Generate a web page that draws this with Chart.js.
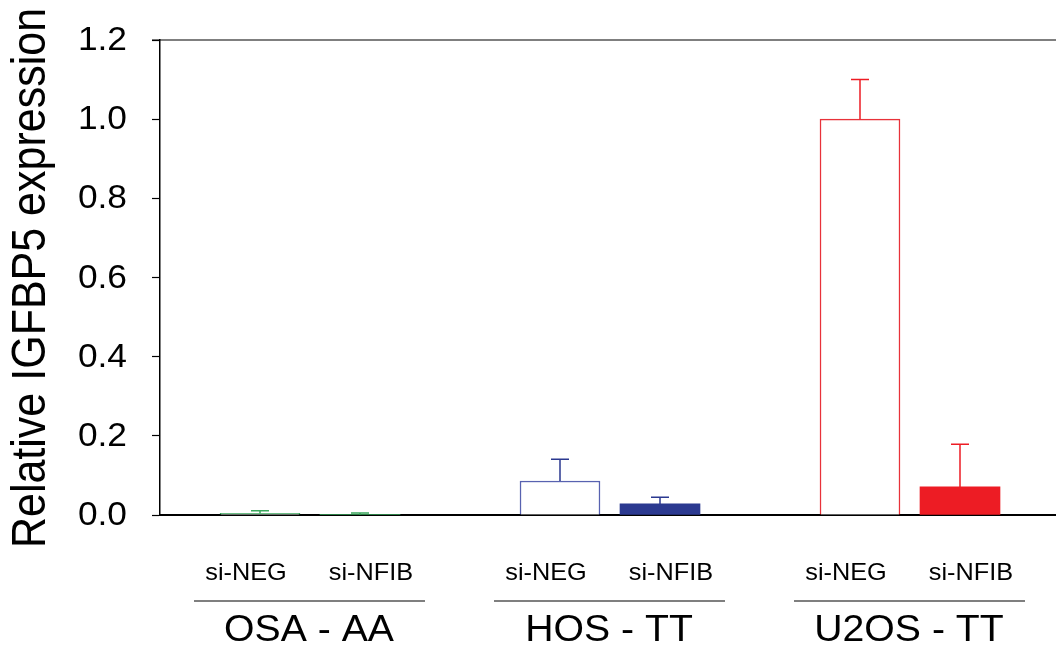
<!DOCTYPE html>
<html><head><meta charset="utf-8">
<script src="https://cdn.jsdelivr.net/npm/chart.js@4/dist/chart.umd.min.js"></script>
<style>html,body{margin:0;padding:0;background:#fff}#wrap{width:1056px;height:658px}</style>
</head><body><div id="wrap"><canvas id="c" width="1056" height="658"></canvas></div>
<script>
const groups = ['OSA - AA', 'HOS - TT', 'U2OS - TT'];
const treatments = ['si-NEG', 'si-NFIB'];
const values = [0.004, 0.001, 0.086, 0.028, 1.0, 0.071];
const errors = [0.007, 0.004, 0.055, 0.017, 0.10, 0.108];
const yTicks = [0, 0.2, 0.4, 0.6, 0.8, 1.0, 1.2];
const groupColors = ['#3aa75c', '#2b3990', '#ed1c24'];
const outlineColors = ['#3aa75c', '#5862b0', '#e8323a'];

const FONT = '"Liberation Sans", Arial, sans-serif';
const points = [], bg = [], bc = [], bw = [], errCol = [];
groups.forEach((g, gi) => treatments.forEach((t, ti) => {
  const i = gi * treatments.length + ti;
  points.push({x: gi * 3 + ti + 1, y: values[i]});
  bg.push(ti === 0 ? '#ffffff' : groupColors[gi]);
  bc.push(ti === 0 ? outlineColors[gi] : groupColors[gi]);
  bw.push(ti === 0 ? 1.5 : 0);
  errCol.push(groupColors[gi]);
}));

function stretchText(ctx, text, x, y, sx, sy, align) {
  ctx.save();
  ctx.translate(x, y); ctx.scale(sx, sy);
  ctx.textAlign = align; ctx.fillText(text, 0, 0);
  ctx.restore();
}

const decor = {
  id: 'decor',
  afterDatasetsDraw(chart) {
    const {ctx, scales: {x, y}, chartArea: ca} = chart;
    ctx.save();
    // error bars
    points.forEach((p, i) => {
      const px = x.getPixelForValue(p.x);
      const y0 = y.getPixelForValue(values[i]);
      const y1 = y.getPixelForValue(values[i] + errors[i]);
      ctx.strokeStyle = errCol[i];
      ctx.lineWidth = 1.5;
      ctx.beginPath();
      ctx.moveTo(px, y0); ctx.lineTo(px, y1);
      ctx.moveTo(px - 9, y1); ctx.lineTo(px + 9, y1);
      ctx.stroke();
    });
    // top frame line
    ctx.strokeStyle = '#000'; ctx.lineWidth = 1.2;
    ctx.beginPath(); ctx.moveTo(ca.left - 8, ca.top); ctx.lineTo(ca.right, ca.top); ctx.stroke();
    ctx.fillStyle = '#000';
    ctx.textBaseline = 'middle';
    // y tick labels
    ctx.font = '33px ' + FONT;
    yTicks.forEach(v => stretchText(ctx, v.toFixed(1), 127, y.getPixelForValue(v) + 1, 1.07, 1, 'right'));
    // y title
    ctx.save();
    ctx.font = '43px ' + FONT;
    ctx.translate(32, 278); ctx.rotate(-Math.PI / 2); ctx.scale(1, 1.1);
    ctx.textAlign = 'center';
    ctx.fillText('Relative IGFBP5 expression', 0, 0);
    ctx.restore();
    // group labels
    groups.forEach((g, gi) => {
      const a = x.getPixelForValue(gi * 3 + 1), b = x.getPixelForValue(gi * 3 + 2);
      const c = (a + b) / 2;
      ctx.font = '22px ' + FONT;
      stretchText(ctx, treatments[0], c - 64, 573, 1.15, 1.08, 'center');
      stretchText(ctx, treatments[1], c + 61, 573, 1.15, 1.08, 'center');
      ctx.strokeStyle = '#555'; ctx.lineWidth = 1.5;
      ctx.beginPath(); ctx.moveTo(c - 116, 601); ctx.lineTo(c + 115, 601); ctx.stroke();
      ctx.font = '35px ' + FONT;
      stretchText(ctx, g, c - 1, 631, 1.12, 1.05, 'center');
    });
    ctx.restore();
  }
};

new Chart(document.getElementById('c'), {
  type: 'bar',
  data: { datasets: [{
    data: points, backgroundColor: bg, borderColor: bc, borderWidth: bw,
    barThickness: 80, borderSkipped: 'start'
  }]},
  options: {
    responsive: false, animation: false, devicePixelRatio: 1,
    layout: { padding: {left: 0, right: 0, top: 40, bottom: 0} },
    plugins: { legend: {display: false}, tooltip: {enabled: false} },
    scales: {
      x: {
        type: 'linear', min: 0, max: 8.96, offset: false,
        ticks: {display: false},
        grid: {display: false},
        border: {display: true, color: '#000', width: 2},
        afterFit(s) { s.height = 143; }
      },
      y: {
        min: 0, max: 1.2,
        afterBuildTicks(s) { s.ticks = yTicks.map(v => ({value: v})); },
        ticks: { display: false },
        grid: { drawOnChartArea: false, drawTicks: true, tickLength: 8, tickColor: '#000', tickWidth: 1.2 },
        border: { display: true, color: '#000', width: 1.5 },
        afterFit(s) { s.width = 160; }
      }
    }
  },
  plugins: [decor]
});
</script></body></html>
